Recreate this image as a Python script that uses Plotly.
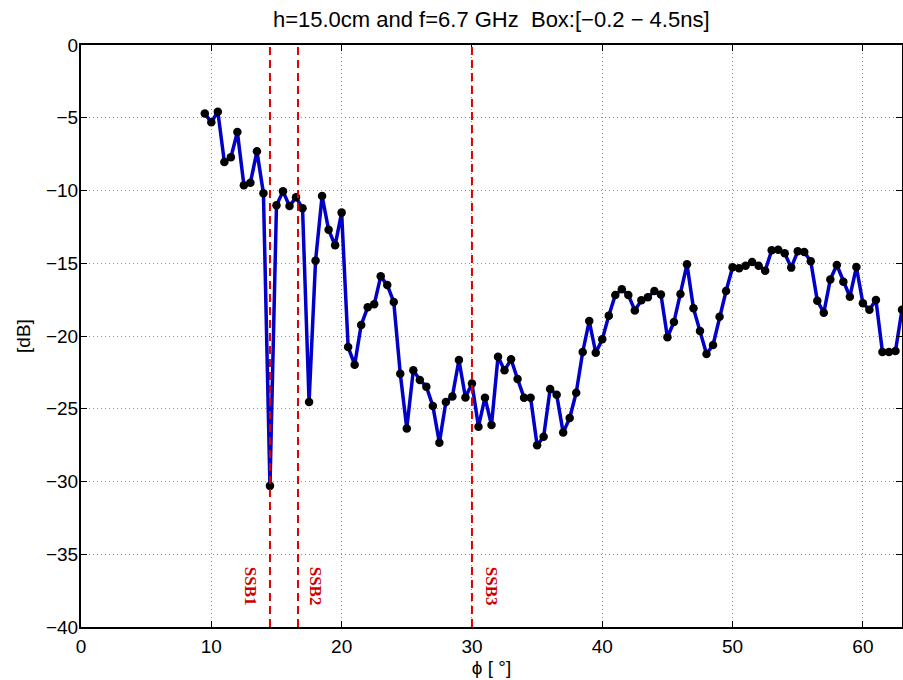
import plotly.graph_objects as go

phi = [9.5 + 0.5 * i for i in range(108)]
db = [-4.7, -5.31, -4.58, -8.04, -7.72, -5.98, -9.64, -9.46, -7.31, -10.19,
      -30.3, -11.02, -10.06, -11.07, -10.47, -11.22, -24.54, -14.82, -10.38, -12.69,
      -13.77, -11.52, -20.76, -21.97, -19.24, -18.03, -17.82, -15.9, -16.5, -17.66,
      -22.6, -26.35, -22.36, -23.02, -23.48, -24.81, -27.33, -24.54, -24.15, -21.65,
      -24.22, -23.26, -26.23, -24.24, -26.12, -21.42, -22.36, -21.6, -22.96, -24.24,
      -24.24, -27.51, -26.92, -23.64, -24.03, -26.64, -25.64, -23.9, -21.1, -18.97,
      -21.15, -20.23, -18.6, -17.18, -16.79, -17.18, -18.24, -17.55, -17.34, -16.91,
      -17.14, -20.09, -19.04, -17.11, -15.07, -18.1, -19.66, -21.24, -20.62, -18.67,
      -16.91, -15.28, -15.35, -15.17, -14.92, -15.17, -15.51, -14.11, -14.07, -14.32,
      -15.3, -14.18, -14.23, -14.87, -17.57, -18.4, -16.11, -15.12, -16.27, -17.3,
      -15.26, -17.75, -18.19, -17.53, -21.1, -21.1, -21.03, -18.19]

ssb_x = [14.5, 16.65, 30.0]
ssb_labels = ["SSB1", "SSB2", "SSB3"]
ssb_label_x = [13.0, 18.0, 31.5]
ssb_label_y = -37.2

x_ticks = [0, 10, 20, 30, 40, 50, 60]
y_ticks = [0, -5, -10, -15, -20, -25, -30, -35, -40]

fig = go.Figure()
fig.add_trace(go.Scatter(
    x=phi, y=db, mode="lines+markers",
    line=dict(color="#0000c8", width=3.5),
    marker=dict(color="black", size=8.5),
    cliponaxis=False,
    showlegend=False,
))
for xv in ssb_x:
    fig.add_shape(type="line", x0=xv, x1=xv, y0=-40, y1=0, xref="x", yref="y",
                  line=dict(color="#dd0000", width=2, dash="8px,5px"))
for xl, lab in zip(ssb_label_x, ssb_labels):
    fig.add_annotation(x=xl, y=ssb_label_y, text="<b>" + lab + "</b>", showarrow=False,
                       textangle=90, font=dict(family="Liberation Serif", size=17, color="#cc0000"))

axis_common = dict(
    showline=True, linecolor="black", linewidth=2, mirror="ticks",
    ticks="inside", ticklen=6, tickcolor="black", tickwidth=1,
    showgrid=True, gridcolor="#909090", gridwidth=1, griddash="1px,3px",
    zeroline=False, automargin=False,
    tickfont=dict(family="Liberation Sans", size=19, color="black"),
)
fig.update_xaxes(range=[0, 63], tickvals=x_ticks, ticklabelstandoff=1,
                 title=dict(text="ϕ [ °]", font=dict(family="Liberation Sans", size=19, color="black"), standoff=0),
                 **axis_common)
fig.update_yaxes(range=[-40, 0], tickvals=y_ticks, ticklabelstandoff=-3,
                 title=dict(text="[dB]", font=dict(family="Liberation Sans", size=19, color="black"), standoff=10),
                 **axis_common)
fig.update_layout(
    width=903, height=680,
    margin=dict(l=81, r=1, t=45, b=53, autoexpand=False),
    paper_bgcolor="white", plot_bgcolor="white",
    title=dict(text="h=15.0cm and f=6.7 GHz  Box:[−0.2 − 4.5ns]", x=0.544, xanchor="center",
               y=0.972, yanchor="middle", automargin=False,
               font=dict(family="Liberation Sans", size=22, color="black")),
)
fig.write_html("out.html", config={"displayModeBar": False},
               post_script="document.body.style.margin='0px';")
